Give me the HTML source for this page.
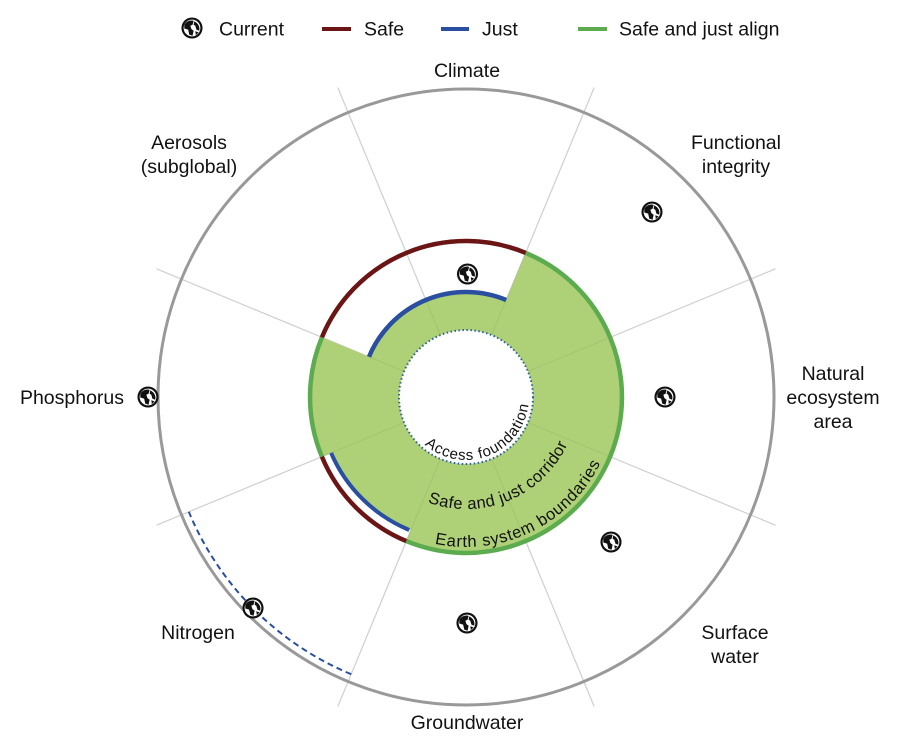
<!DOCTYPE html>
<html><head><meta charset="utf-8"><style>
html,body{margin:0;padding:0;background:#fff;}
svg{display:block;font-family:"Liberation Sans",Arial,sans-serif;}
</style></head><body>
<svg width="918" height="746" viewBox="0 0 918 746" xmlns="http://www.w3.org/2000/svg">
<defs>
<symbol id="g" viewBox="-10 -10 20 20" overflow="visible">
<circle r="9.6" fill="#111"/>
<circle r="7.6" fill="#fff"/>
<path d="M-7,-3 C-5,-6.5 -1,-7.5 1.5,-6.5 L0.5,-3 L-1.5,-2 L-0.5,1 L1.5,2.5 L0.5,7 L-2.5,6 L-3.5,1.5 L-7,0.5 Z" fill="#111"/>
<path d="M2,-6 C5.5,-4.5 7.5,-1 6.5,2.5 L4,1.5 L3,-2 L1.5,-3 Z" fill="#111"/>
<path d="M3,3 L6,4 L3.5,6.5 Z" fill="#111"/>
</symbol>
</defs>

<!-- legend -->
<use href="#g" x="181" y="17" width="22" height="22"/>
<text x="219" y="35.5" font-size="19.5" fill="#111">Current</text>
<line x1="322" y1="29" x2="351" y2="29" stroke="#6b1515" stroke-width="4"/>
<text x="364" y="35.5" font-size="19.5" fill="#111">Safe</text>
<line x1="441" y1="29" x2="469" y2="29" stroke="#2a4fa0" stroke-width="4"/>
<text x="482" y="35.5" font-size="19.5" fill="#111">Just</text>
<line x1="578" y1="29" x2="607" y2="29" stroke="#5cac4f" stroke-width="4"/>
<text x="619" y="35.5" font-size="19.5" fill="#111">Safe and just align</text>

<!-- spokes -->
<g stroke="#cfcfcf" stroke-width="1.2">
<line x1="491.6" y1="335.1" x2="594.2" y2="87.5"/>
<line x1="527.9" y1="371.4" x2="775.5" y2="268.8"/>
<line x1="527.9" y1="422.6" x2="775.5" y2="525.2"/>
<line x1="491.6" y1="458.9" x2="594.2" y2="706.5"/>
<line x1="440.4" y1="458.9" x2="337.8" y2="706.5"/>
<line x1="404.1" y1="422.6" x2="156.5" y2="525.2"/>
<line x1="404.1" y1="371.4" x2="156.5" y2="268.8"/>
<line x1="440.4" y1="335.1" x2="337.8" y2="87.5"/>
</g>

<!-- outer circle -->
<circle cx="466" cy="397" r="308" fill="none" stroke="#999" stroke-width="3"/>
<path d="M351.2,674.2 A300 300 0 0 1 188.8,511.8" fill="none" stroke="#2a4fa0" stroke-width="2" stroke-dasharray="6,4"/>

<!-- green fill -->
<path d="M525.7,252.9 A156 156 0 0 1 610.1,456.7 A156 156 0 0 1 406.3,541.1 L410.9,530.0 A144 144 0 0 1 332.96,452.1 L321.9,456.7 A156 156 0 0 1 321.9,337.3 L369.0,356.8 A105 105 0 0 1 506.2,300.0 Z" fill="#aed076"/>

<!-- faint spokes over green -->
<g stroke="#000" stroke-opacity="0.06" stroke-width="1">
<line x1="491.6" y1="335.1" x2="525.7" y2="252.9"/>
<line x1="527.9" y1="371.4" x2="610.1" y2="337.3"/>
<line x1="527.9" y1="422.6" x2="610.1" y2="456.7"/>
<line x1="491.6" y1="458.9" x2="525.7" y2="541.1"/>
<line x1="440.4" y1="458.9" x2="406.3" y2="541.1"/>
<line x1="404.1" y1="422.6" x2="321.9" y2="456.7"/>
<line x1="404.1" y1="371.4" x2="369.0" y2="356.8"/>
<line x1="440.4" y1="335.1" x2="425.8" y2="300.0"/>
</g>

<!-- boundary arcs -->
<g fill="none" stroke-width="4.5">
<path d="M525.7,252.9 A156 156 0 0 1 610.1,456.7 A156 156 0 0 1 406.3,541.1" stroke="#5cac4f"/>
<path d="M321.9,456.7 A156 156 0 0 1 321.9,337.3" stroke="#5cac4f"/>
<path d="M321.9,337.3 A156 156 0 0 1 525.7,252.9" stroke="#6b1515"/>
<path d="M406.3,541.1 A156 156 0 0 1 321.9,456.7" stroke="#6b1515"/>
<path d="M369.0,356.8 A105 105 0 0 1 506.2,300.0" stroke="#2a4fa0"/>
<path d="M409.2,530.0 A146 146 0 0 1 331.1,452.9" stroke="#2a4fa0" stroke-width="4"/>
</g>

<!-- inner -->
<circle cx="466" cy="397" r="67" fill="#fff" stroke="#2a5fa0" stroke-width="2" stroke-dasharray="1.5,2.5"/>

<!-- curved labels -->
<path id="p1" d="M424.7,444.6 A63 63 0 0 0 528,386" fill="none"/>
<path id="p2" d="M427.7,502.3 A112 112 0 0 0 571.3,435.3" fill="none"/>
<path id="p3" d="M434.8,543.7 A150 150 0 0 0 605,453" fill="none"/>
<text font-size="15" fill="#111"><textPath href="#p1" textLength="136" lengthAdjust="spacing">Access foundation</textPath></text>
<text font-size="16.5" fill="#111"><textPath href="#p2" textLength="166" lengthAdjust="spacing">Safe and just corridor</textPath></text>
<text font-size="16.5" fill="#111"><textPath href="#p3" textLength="198" lengthAdjust="spacing">Earth system boundaries</textPath></text>

<!-- globes -->
<use href="#g" x="456.5" y="263" width="22" height="22"/>
<use href="#g" x="641" y="201" width="22" height="22"/>
<use href="#g" x="654" y="386" width="22" height="22"/>
<use href="#g" x="600" y="531" width="22" height="22"/>
<use href="#g" x="456" y="612" width="22" height="22"/>
<use href="#g" x="242" y="597" width="22" height="22"/>
<use href="#g" x="137" y="386" width="22" height="22"/>

<!-- sector labels -->
<g font-size="19.5" fill="#111" text-anchor="middle">
<text x="467" y="77">Climate</text>
<text x="736" y="149">Functional</text>
<text x="736" y="173">integrity</text>
<text x="833" y="380">Natural</text>
<text x="833" y="404">ecosystem</text>
<text x="833" y="428">area</text>
<text x="735" y="639">Surface</text>
<text x="735" y="663">water</text>
<text x="467" y="729">Groundwater</text>
<text x="198" y="639">Nitrogen</text>
<text x="72" y="404">Phosphorus</text>
<text x="189" y="149">Aerosols</text>
<text x="189" y="173">(subglobal)</text>
</g>
</svg>
</body></html>
